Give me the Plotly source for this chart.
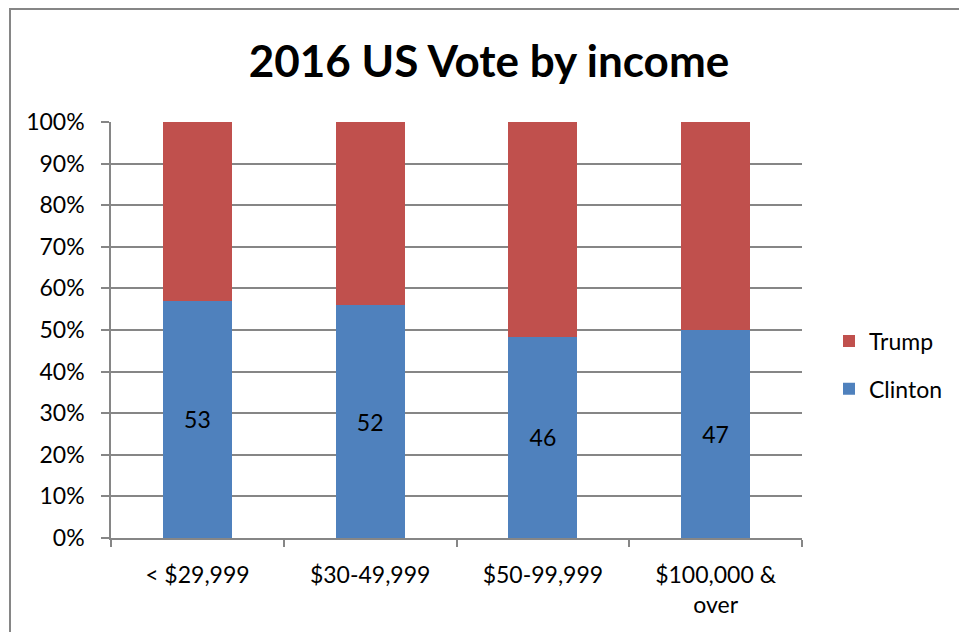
import plotly.graph_objects as go

# Share of the 2016 US presidential vote by household income
income_groups = ["< $29,999", "$30-49,999", "$50-99,999", "$100,000 & over"]
income_labels = ["< $29,999", "$30-49,999", "$50-99,999", "$100,000 &<br>over"]
clinton = [53, 52, 46, 47]
trump = [40, 41, 49, 47]
y_ticks = [0, 10, 20, 30, 40, 50, 60, 70, 80, 90, 100]
y_tick_text = [f"{v}%" for v in y_ticks]

FONT = "Lato, Calibri, Carlito, sans-serif"
GRID = "#868686"
FS = 23

fig = go.Figure()
fig.add_trace(go.Bar(
    name="Clinton", x=income_groups, y=clinton,
    marker=dict(color="#4F81BD", line=dict(width=0)),
    text=clinton, texttemplate="%{text}", textposition="inside",
    insidetextanchor="middle", textangle=0,
    textfont=dict(family=FONT, size=FS, color="black"),
    legendgroup="c", legendrank=2, hoverinfo="skip",
))
fig.add_trace(go.Bar(
    name="Trump", x=income_groups, y=trump,
    marker=dict(color="#C0504D", line=dict(width=0)),
    legendgroup="t", legendrank=1, hoverinfo="skip",
))

W, H = 959, 632
L, R, T, B = 111, 157, 122, 94
pw, ph = W - L - R, H - T - B

def px_x(p):
    return (p - L) / pw

def px_y(p):
    return (H - B - p) / ph

fig.update_layout(
    width=W, height=H,
    margin=dict(l=L, r=R, t=T, b=B, pad=0, autoexpand=False),
    barmode="stack", barnorm="percent", bargap=0.6,
    paper_bgcolor="white", plot_bgcolor="white",
    font=dict(family=FONT, size=FS, color="black"),
    title=dict(
        text="<b>2016 US Vote by income</b>",
        font=dict(family=FONT, size=44, color="black"),
        xref="paper", x=px_x(489), xanchor="center",
        yref="container", y=1 - 62 / H, yanchor="middle",
    ),
    xaxis=dict(
        tickmode="array", tickvals=income_groups, ticktext=income_labels,
        tickson="boundaries", ticks="outside", ticklen=7, tickcolor=GRID, tickwidth=1.5,
        ticklabelstandoff=16,
        showline=True, linecolor=GRID, linewidth=1.5,
        showgrid=False, fixedrange=True,
        tickfont=dict(family=FONT, size=FS, color="black"),
    ),
    yaxis=dict(
        range=[0, 100], tickmode="array", tickvals=y_ticks, ticktext=y_tick_text,
        ticks="outside", ticklen=8, tickcolor=GRID, tickwidth=1.5,
        ticklabelstandoff=12,
        showline=True, linecolor=GRID, linewidth=1.5,
        showgrid=True, gridcolor=GRID, gridwidth=1.5,
        zeroline=False, fixedrange=True,
        tickfont=dict(family=FONT, size=FS, color="black"),
    ),
    legend=dict(
        traceorder="grouped", tracegroupgap=15,
        x=px_x(829), xanchor="left", y=px_y(365), yanchor="middle",
        font=dict(family=FONT, size=FS, color="black"),
        bgcolor="rgba(0,0,0,0)", itemclick=False, itemdoubleclick=False,
    ),
    shapes=[dict(
        type="rect", xref="paper", yref="paper",
        x0=px_x(10), x1=px_x(W + 20), y0=px_y(H + 20), y1=px_y(9),
        line=dict(color=GRID, width=2), fillcolor="rgba(0,0,0,0)", layer="above",
    )],
)

fig.write_html("out.html")
